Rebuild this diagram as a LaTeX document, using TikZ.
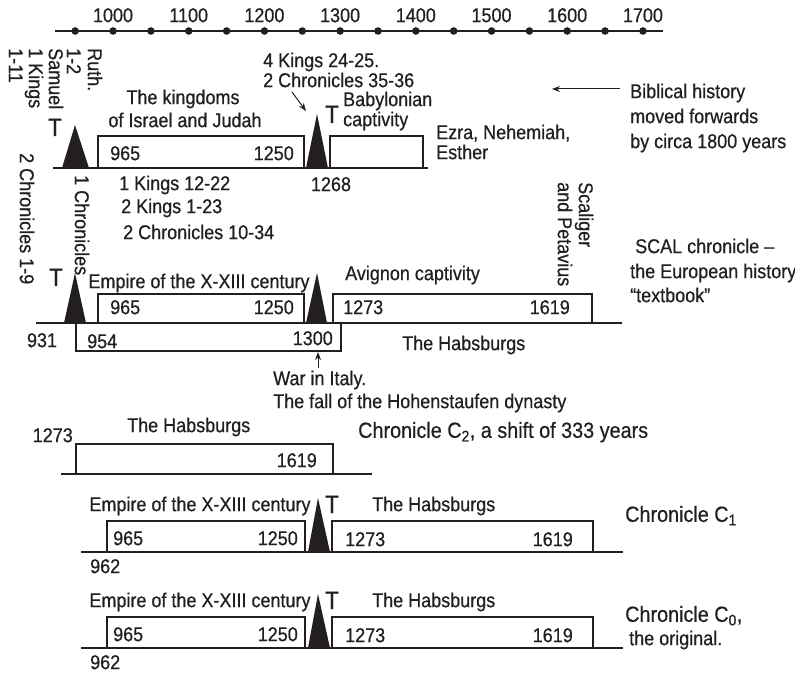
\documentclass[tikz,border=0pt]{standalone}
\usepackage{fontspec}
\setmainfont[FakeStretch=0.9,FakeBold=0.6]{Liberation Sans}
\usetikzlibrary{arrows.meta}
\definecolor{ink}{HTML}{231F20}
\begin{document}
\begin{tikzpicture}[x=1pt,y=-1pt,
  txt/.style={inner sep=0pt, text=ink, font=\fontsize{20}{20}\selectfont, text height=14.3pt, text depth=0pt},
  big/.style={inner sep=0pt, text=ink, font=\fontsize{22}{22}\selectfont, text height=15.7pt, text depth=0pt},
  tee/.style={inner sep=0pt, text=ink, font=\fontsize{25}{25}\selectfont, text height=18pt, text depth=0pt},
  vert/.style={txt, rotate=-90, anchor=west},
  box/.style={draw=ink, line width=2.2pt},
  baseln/.style={draw=ink, line width=2pt},
  tri/.style={fill=ink},
  arr/.style={draw=ink, line width=1pt, -{Stealth[length=8pt,width=6pt]}}]
\useasboundingbox (0,0) rectangle (795,676);

% ---- time axis
\draw[draw=ink, line width=2.3pt] (55,31) -- (663,31);
\foreach \i in {0,...,15} \fill[ink] ({75.2+\i*37.85},31) circle (3.8);
\foreach \yr in {1000,1100,...,1700}
  \node[txt] (yr\yr) at ({113+0.757*(\yr-1000)},15) {\yr};

% ---- row 1: biblical
\draw[baseln] (53,168) -- (428,168);
\fill[tri] (62,168) -- (75,125) -- (89,168) -- cycle;
\fill[tri] (306,168) -- (317,114) -- (328,168) -- cycle;
\draw[box] (98,168) rectangle (304,136);
\draw[box] (330,168) rectangle (423,136);
\node[tee] (t1) at (55,127) {T};
\node[tee] (t2) at (332,114) {T};
\node[txt] (king1) at (183,97) {The kingdoms};
\node[txt] (king2) at (185,120) {of Israel and Judah};
\node[txt, anchor=west] (r1a) at (110,153) {965};
\node[txt, anchor=east] (r1b) at (294,153) {1250};
\node[txt] (r1c) at (331,184) {1268};
\node[txt, anchor=west] (bab1) at (343,99) {Babylonian};
\node[txt, anchor=west] (bab2) at (343,119) {captivity};
\node[txt, anchor=west] (kg1) at (263,60) {4 Kings 24-25.};
\node[txt, anchor=west] (kg2) at (263,80) {2 Chronicles 35-36};
\coordinate (kgtip) at (306,111);
\draw[arr] (292,92) -- (kgtip);
\node[txt, anchor=west] (ezra1) at (436,132) {Ezra, Nehemiah,};
\node[txt, anchor=west] (ezra2) at (436,152) {Esther};
\node[txt, anchor=west] (bib1) at (630,91) {Biblical history};
\node[txt, anchor=west] (bib2) at (630,116) {moved forwards};
\node[txt, anchor=west] (bib3) at (630,141) {by circa 1800 years};
\coordinate (bibtip) at (552,89);
\draw[arr] (bib1.west) ++(-10,-2) coordinate (bibtail) -- (bibtip);
\node[txt, anchor=west] (k12) at (119,183) {1 Kings 12-22};
\node[txt, anchor=west] (k123) at (121,206) {2 Kings 1-23};
\node[txt, anchor=west] (c1034) at (123,232) {2 Chronicles 10-34};
\node[vert] (v1) at (95,48) {Ruth.};
\node[vert] (v2) at (74,48) {1-2};
\node[vert] (v3) at (56,48) {Samuel};
\node[vert] (v4) at (36,48) {1 Kings};
\node[vert] (v5) at (16,48) {1-11};
\node[vert] (v6) at (27,153) {2 Chronicles 1-9};
\node[vert] (v7) at (82,175) {1 Chronicles};

% ---- row 2: SCAL
\draw[baseln] (36,323) -- (622,323);
\fill[tri] (64,323) -- (75,273) -- (86,323) -- cycle;
\fill[tri] (306,323) -- (317,273) -- (327,323) -- cycle;
\draw[box] (98,323) rectangle (304,294);
\draw[box] (333,323) rectangle (592,294);
\draw[box] (76,323) rectangle (341,351);
\node[tee] (t3) at (56,277) {T};
\node[txt] (emp2) at (199,281) {Empire of the X-XIII century};
\node[txt, anchor=west] (r2a) at (110,307) {965};
\node[txt, anchor=east] (r2b) at (294,307) {1250};
\node[txt, anchor=west] (r2c) at (343,307) {1273};
\node[txt, anchor=east] (r2d) at (570,307) {1619};
\node[txt, anchor=west] (avi) at (345,273) {Avignon captivity};
\node[txt] (r2e) at (42,340) {931};
\node[txt, anchor=west] (r2f) at (87,341) {954};
\node[txt, anchor=east] (r2g) at (333,338) {1300};
\node[txt, anchor=west] (hab2) at (402,343) {The Habsburgs};
\node[txt, anchor=west] (war1) at (273,378) {War in Italy.};
\node[txt, anchor=west] (war2) at (273,401) {The fall of the Hohenstaufen dynasty};
\coordinate (wartail) at (318,368);
\coordinate (wartip) at (318,352);
\draw[arr] (wartail) -- (wartip);
\node[vert] (sc1) at (586,182) {Scaliger};
\node[vert] (sc2) at (565,182) {and Petavius};
\node[txt, anchor=west] (scal1) at (635,246) {SCAL chronicle –};
\node[txt, anchor=west] (scal2) at (630,271) {the European history};
\node[txt, anchor=west] (scal3) at (630,295) {“textbook”};

% ---- chronicle C2
\draw[baseln] (61,474) -- (372,474);
\draw[box] (76,474) rectangle (333,444);
\node[txt, anchor=east] (c2a) at (73,435) {1273};
\node[txt, anchor=east] (c2b) at (317,460) {1619};
\node[txt, anchor=west] (hab3) at (127,425) {The Habsburgs};
\node[big, anchor=west] (chr2) at (358,430) {Chronicle C\textsubscript{2}, a shift of 333 years};

% ---- chronicle C1 and C0
\foreach \dy/\nm in {0/one,96/zero}{
  \begin{scope}[yshift=-\dy pt]
  \draw[baseln] (81,552) -- (623,552);
  \fill[tri] (308,552) -- (318,498) -- (330,552) -- cycle;
  \draw[box] (107,552) rectangle (305,521);
  \draw[box] (332,552) rectangle (593,521);
  \node[tee] (t\nm) at (332,504) {T};
  \node[txt] (emp\nm) at (200,504) {Empire of the X-XIII century};
  \node[txt, anchor=west] (a\nm) at (113,538) {965};
  \node[txt, anchor=east] (b\nm) at (298,538) {1250};
  \node[txt, anchor=west] (c\nm) at (345,539) {1273};
  \node[txt, anchor=east] (d\nm) at (573,539) {1619};
  \node[txt, anchor=west] (hab\nm) at (372,504) {The Habsburgs};
  \node[txt, anchor=west] (e\nm) at (90,566) {962};
  \end{scope}}
\node[big, anchor=west] (chr1) at (625,514) {Chronicle C\textsubscript{1}};
\node[big, anchor=west] (chr0) at (625,614) {Chronicle C\textsubscript{0},};
\node[txt, anchor=west] (orig) at (629,638) {the original.};
\end{tikzpicture}
\end{document}
